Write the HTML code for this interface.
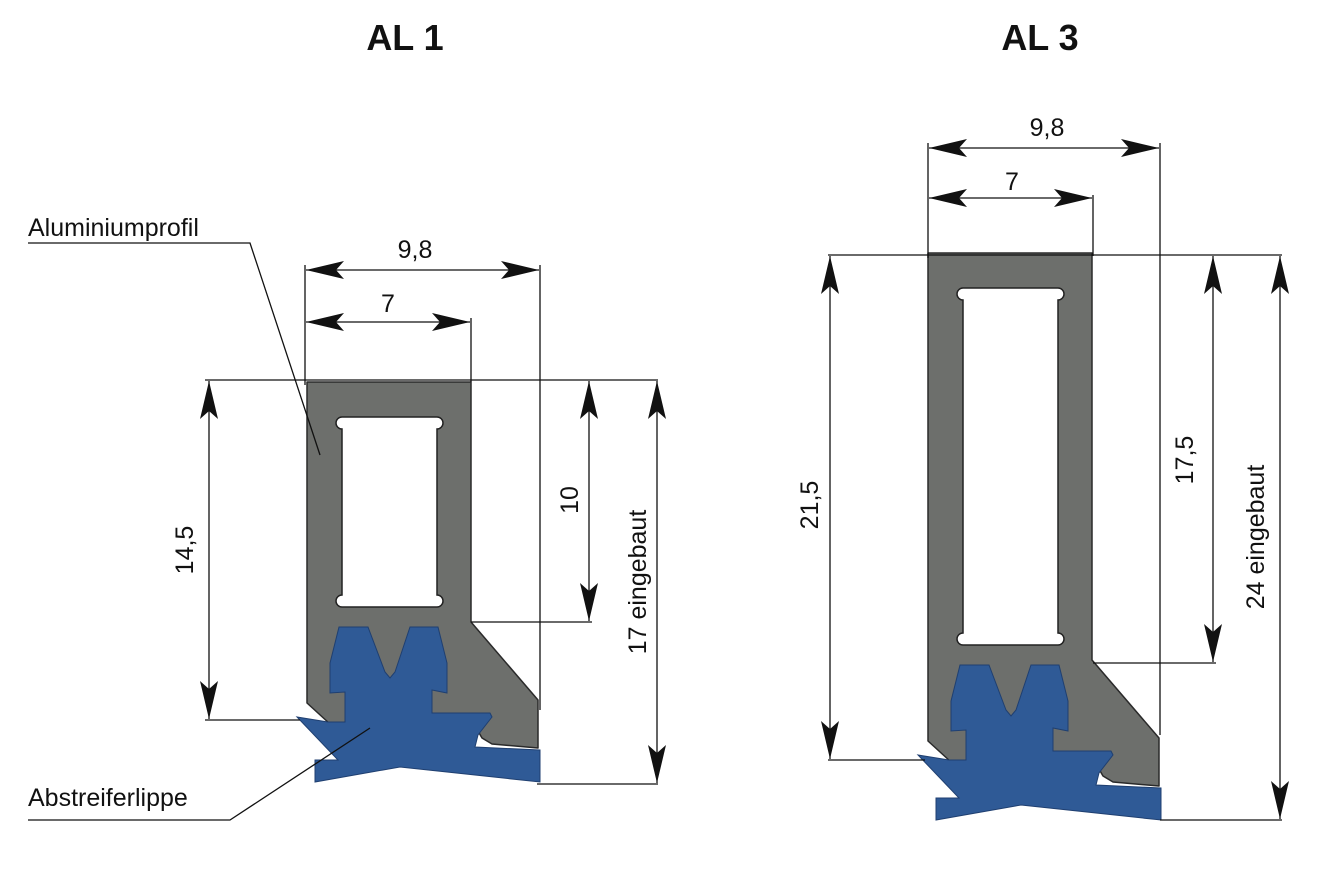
<!DOCTYPE html>
<html><head><meta charset="utf-8"><style>
html,body{margin:0;padding:0;background:#fff;width:1338px;height:886px;overflow:hidden}
svg{display:block}
text{font-family:"Liberation Sans",sans-serif;fill:#111}
</style></head><body>
<svg id="s" width="1338" height="886" viewBox="0 0 1338 886" xmlns="http://www.w3.org/2000/svg">
<defs>
<marker id="a" viewBox="0 0 40 20" refX="38" refY="10" markerWidth="40" markerHeight="20" markerUnits="userSpaceOnUse" orient="auto-start-reverse">
<path d="M38,10 L0,1 L8,10 L0,19 Z" fill="#111"/>
</marker>
</defs>
<text x="405" y="50" font-size="36" font-weight="bold" text-anchor="middle">AL 1</text>
<text x="1040" y="50" font-size="36" font-weight="bold" text-anchor="middle">AL 3</text>
<g id="shapes"></g>
<g stroke="#111" stroke-width="1.3" fill="none">
<line x1="305" y1="265" x2="305" y2="385"/>
<line x1="540" y1="265" x2="540" y2="710"/>
<line x1="471" y1="318" x2="471" y2="382"/>
<line x1="205" y1="380" x2="658" y2="380"/>
<line x1="205" y1="720" x2="300" y2="720"/>
<line x1="471" y1="622" x2="592" y2="622"/>
<line x1="537" y1="784" x2="658" y2="784"/>
<line x1="306" y1="270" x2="539" y2="270" marker-start="url(#a)" marker-end="url(#a)"/>
<line x1="306" y1="322" x2="470" y2="322" marker-start="url(#a)" marker-end="url(#a)"/>
<line x1="209" y1="381" x2="209" y2="719" marker-start="url(#a)" marker-end="url(#a)"/>
<line x1="589" y1="381" x2="589" y2="621" marker-start="url(#a)" marker-end="url(#a)"/>
<line x1="657" y1="381" x2="657" y2="783" marker-start="url(#a)" marker-end="url(#a)"/>
<polyline points="28,243 250,243 320,455"/>
<polyline points="28,820 230,820 370,728"/>
<line x1="928" y1="143" x2="928" y2="258"/>
<line x1="1160" y1="143" x2="1160" y2="735"/>
<line x1="1093" y1="195" x2="1093" y2="256"/>
<line x1="828" y1="255" x2="1282" y2="255"/>
<line x1="828" y1="760" x2="925" y2="760"/>
<line x1="1093" y1="663" x2="1216" y2="663"/>
<line x1="1160" y1="820" x2="1282" y2="820"/>
<line x1="929" y1="148" x2="1159" y2="148" marker-start="url(#a)" marker-end="url(#a)"/>
<line x1="929" y1="198" x2="1092" y2="198" marker-start="url(#a)" marker-end="url(#a)"/>
<line x1="830" y1="256" x2="830" y2="759" marker-start="url(#a)" marker-end="url(#a)"/>
<line x1="1213" y1="256" x2="1213" y2="662" marker-start="url(#a)" marker-end="url(#a)"/>
<line x1="1280" y1="256" x2="1280" y2="819" marker-start="url(#a)" marker-end="url(#a)"/>
</g>
<g font-size="25">
<text x="415" y="258" text-anchor="middle">9,8</text>
<text x="388" y="312" text-anchor="middle">7</text>
<text transform="translate(193,550) rotate(-90)" text-anchor="middle">14,5</text>
<text transform="translate(578,500) rotate(-90)" text-anchor="middle">10</text>
<text transform="translate(646,582) rotate(-90)" text-anchor="middle">17 eingebaut</text>
<text x="28" y="236">Aluminiumprofil</text>
<text x="28" y="806">Abstreiferlippe</text>
<text x="1047" y="136" text-anchor="middle">9,8</text>
<text x="1012" y="190" text-anchor="middle">7</text>
<text transform="translate(818,505) rotate(-90)" text-anchor="middle">21,5</text>
<text transform="translate(1193,460) rotate(-90)" text-anchor="middle">17,5</text>
<text transform="translate(1264,537) rotate(-90)" text-anchor="middle">24 eingebaut</text>
</g>
</svg>
<script>
(function(){
var gray=[[307,382],[471,382],[471,622],[538,700],[538,748],[492,744],[482,738],[474,724],[330,724],[307,703]];
var hole="M342,417 L437,417 A6 6 0 0 1 437,429 L437,595 A6 6 0 0 1 437,607 L342,607 A6 6 0 0 1 342,595 L342,429 A6 6 0 0 1 342,417 Z";
var blue=[[339,627],[368,627],[385,672],[390,678],[395,672],[410,627],[438,627],[447,663],[447,693],[432,690],[432,713],[490,713],[492,717],[478,735],[475,747],[540,750],[540,782],[400,767],[315,782],[315,760],[338,760],[297,717],[328,722],[345,722],[345,692],[330,693],[330,663]];
function tr(pts,dx,top,bot){return pts.map(function(p){var y=p[1];y=y<=500?y+top:y+bot;return (p[0]+dx)+","+y;}).join(" ");}
function hp(dx,top,bot){return hole.replace(/(\d+),(\d+)/g,function(m,x,y){x=+x;y=+y;return (x+dx)+","+(y<=500?y+top:y+bot);});}
var h="";
[[0,0,0],[621,-129,38]].forEach(function(c){
h+='<polygon points="'+tr(gray,c[0],c[1],c[2])+'" fill="#6d6f6c" stroke="#2a2a2a" stroke-width="1.5" stroke-linejoin="round"/>';
h+='<path d="'+hp(c[0],c[1],c[2])+'" fill="#fff" stroke="#222" stroke-width="1.5"/>';
h+='<polygon points="'+tr(blue,c[0],c[1],c[2])+'" fill="#2f5a96" stroke="#1f3f70" stroke-width="1"/>';
});
document.getElementById("shapes").innerHTML=h;
})();
</script>
</body></html>
